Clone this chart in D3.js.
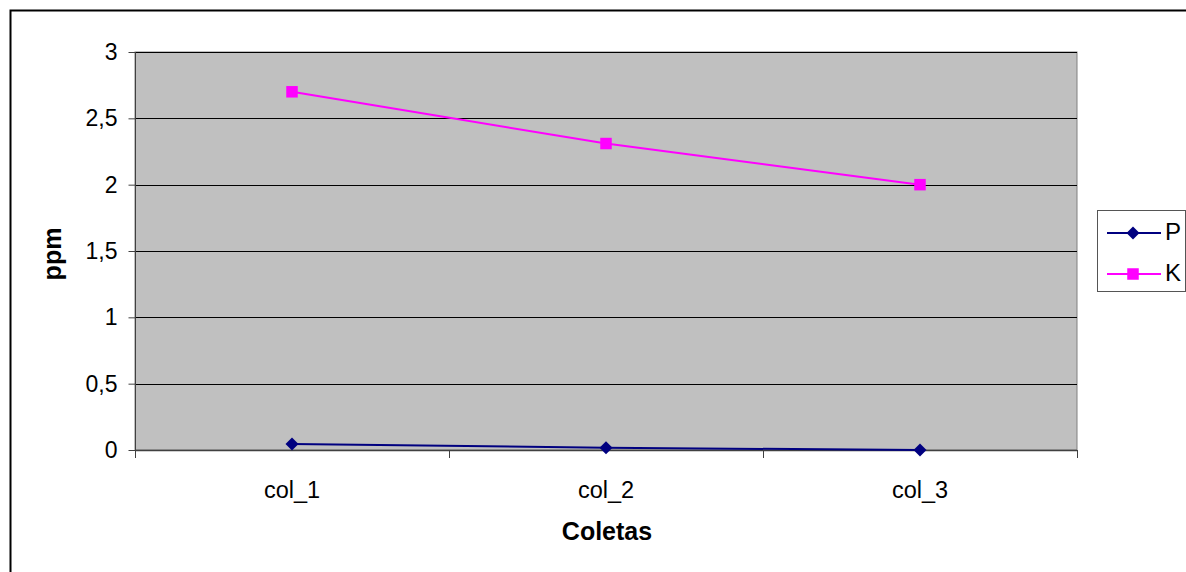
<!DOCTYPE html>
<html>
<head>
<meta charset="utf-8">
<script src="https://cdn.jsdelivr.net/npm/d3@7"></script>
<style>
  html, body { margin: 0; padding: 0; background: #fff; overflow: hidden; }
  svg { display: block; font-family: "Liberation Sans", Arial, sans-serif; }
</style>
</head>
<body>
<svg id="chart" width="1186" height="572"></svg>
<script>
// Collection points and measured concentrations (ppm)
const categories = ["col_1", "col_2", "col_3"];
const valuesP = [0.045, 0.017, 0.0];
const valuesK = [2.70, 2.31, 2.00];
const yTicks = [0, 0.5, 1, 1.5, 2, 2.5, 3];
const yTickLabels = ["0", "0,5", "1", "1,5", "2", "2,5", "3"];
const seriesNames = ["P", "K"];

const series = [
  { name: seriesNames[0], values: valuesP, color: "#000080", marker: "diamond" },
  { name: seriesNames[1], values: valuesK, color: "#FF00FF", marker: "square" }
];

const svg = d3.select("#chart");

// Outer chart frame
svg.append("rect")
  .attr("x", 10.5).attr("y", 10.5)
  .attr("width", 1300).attr("height", 700)
  .attr("fill", "#fff").attr("stroke", "#000").attr("stroke-width", 2);

const plot = { left: 135, top: 52, right: 1077, bottom: 450 };

const x = d3.scaleBand()
  .domain(categories)
  .range([plot.left, plot.right])
  .paddingInner(0).paddingOuter(0);

const y = d3.scaleLinear()
  .domain([0, 3])
  .range([plot.bottom, plot.top]);

// Plot background
svg.append("rect")
  .attr("x", plot.left).attr("y", plot.top)
  .attr("width", plot.right - plot.left).attr("height", plot.bottom - plot.top)
  .attr("fill", "#C0C0C0")
  .attr("stroke", "#808080").attr("stroke-width", 1);

// Horizontal gridlines
svg.append("g")
  .selectAll("line")
  .data(yTicks.filter(d => d > 0))
  .join("line")
  .attr("x1", plot.left).attr("x2", plot.right)
  .attr("y1", d => Math.round(y(d)) + 0.5)
  .attr("y2", d => Math.round(y(d)) + 0.5)
  .attr("stroke", "#000").attr("stroke-width", 1);

// Y axis
const yAxis = d3.axisLeft(y)
  .tickValues(yTicks)
  .tickFormat((d, i) => yTickLabels[i])
  .tickSize(7)
  .tickPadding(11);

const gy = svg.append("g")
  .attr("transform", `translate(${plot.left + 0.5},0)`)
  .call(yAxis);
gy.select(".domain").attr("stroke", "#404040").attr("d", `M0,${plot.top}V${plot.bottom}`);
gy.selectAll(".tick line").attr("stroke", "#404040");
gy.selectAll(".tick text")
  .attr("font-size", 23).attr("fill", "#000")
  .attr("font-family", "'Liberation Sans', Arial, sans-serif");

// X axis: ticks sit on the category boundaries
const boundaries = categories.map(c => x(c)).concat([plot.right]);
const gx = svg.append("g");
gx.append("line")
  .attr("x1", plot.left).attr("x2", plot.right)
  .attr("y1", plot.bottom + 0.5).attr("y2", plot.bottom + 0.5)
  .attr("stroke", "#404040").attr("stroke-width", 1.5);
gx.selectAll("line.tick")
  .data(boundaries)
  .join("line")
  .attr("class", "tick")
  .attr("x1", d => Math.round(d) + 0.5).attr("x2", d => Math.round(d) + 0.5)
  .attr("y1", plot.bottom).attr("y2", plot.bottom + 8)
  .attr("stroke", "#404040");
gx.selectAll("text")
  .data(categories)
  .join("text")
  .attr("x", d => x(d) + x.bandwidth() / 2)
  .attr("y", 498)
  .attr("text-anchor", "middle")
  .attr("font-size", 23.5)
  .attr("fill", "#000")
  .text(d => d);

// Axis titles
svg.append("text")
  .attr("x", (plot.left + plot.right) / 2 + 1)
  .attr("y", 540)
  .attr("text-anchor", "middle")
  .attr("font-size", 25).attr("font-weight", "bold")
  .text("Coletas");

svg.append("text")
  .attr("transform", `translate(61,254) rotate(-90)`)
  .attr("text-anchor", "middle")
  .attr("font-size", 25).attr("font-weight", "bold")
  .text("ppm");

// Series lines and markers
const cx = d => x(d) + x.bandwidth() / 2;
const line = d3.line().x((v, i) => cx(categories[i])).y(v => y(v));

function drawMarker(g, type, color) {
  if (type === "diamond") {
    g.append("path")
      .attr("d", "M0,-6.5L6.5,0L0,6.5L-6.5,0Z")
      .attr("fill", color);
  } else {
    g.append("rect")
      .attr("x", -5.75).attr("y", -5.75).attr("width", 11.5).attr("height", 11.5)
      .attr("fill", color);
  }
}

series.forEach(s => {
  svg.append("path")
    .datum(s.values)
    .attr("d", line)
    .attr("fill", "none")
    .attr("stroke", s.color)
    .attr("stroke-width", 2);
  s.values.forEach((v, i) => {
    const g = svg.append("g").attr("transform", `translate(${cx(categories[i])},${y(v)})`);
    drawMarker(g, s.marker, s.color);
  });
});

// Legend
const legend = svg.append("g");
legend.append("rect")
  .attr("x", 1097.5).attr("y", 210.5)
  .attr("width", 88).attr("height", 81)
  .attr("fill", "#fff").attr("stroke", "#555").attr("stroke-width", 1);

const legendRows = [233, 274];
series.forEach((s, i) => {
  const ly = legendRows[i];
  legend.append("line")
    .attr("x1", 1107).attr("x2", 1161)
    .attr("y1", ly).attr("y2", ly)
    .attr("stroke", s.color).attr("stroke-width", 2);
  const g = legend.append("g").attr("transform", `translate(1133,${ly})`);
  drawMarker(g, s.marker, s.color);
  legend.append("text")
    .attr("x", 1165).attr("y", ly + 6.5)
    .attr("font-size", 24).attr("fill", "#000")
    .text(s.name);
});
</script>
</body>
</html>
